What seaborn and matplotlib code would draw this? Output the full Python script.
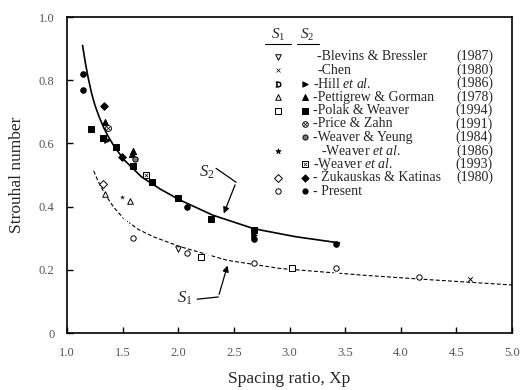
import matplotlib
matplotlib.use("Agg")
import matplotlib.pyplot as plt
import seaborn as sns
import pandas as pd

sns.set_theme(style="ticks")
plt.rcParams['font.family'] = ['Liberation Serif', 'DejaVu Serif']
plt.rcParams['mathtext.fontset'] = 'custom'
plt.rcParams['mathtext.rm'] = 'Liberation Serif'
plt.rcParams['mathtext.it'] = 'Liberation Serif:italic'
plt.rcParams['mathtext.bf'] = 'Liberation Serif:bold'

# ---------------- data ----------------
# S1 (open symbols)
s1_blevins_x = [2.00]
s1_blevins_y = [0.266]
s1_chen_x = [4.62]
s1_chen_y = [0.170]
s1_hill_x = [1.53, 2.27, 2.68, 3.42]
s1_hill_y = [0.357, 0.242, 0.200, 0.197]
s1_pettigrew_x = [1.34, 1.57]
s1_pettigrew_y = [0.441, 0.418]
s1_polak_x = [2.20, 3.02]
s1_polak_y = [0.240, 0.205]
s1_weaver86_x = [1.49]
s1_weaver86_y = [0.431]
s1_zukauskas_x = [1.32]
s1_zukauskas_y = [0.473]
s1_present_x = [1.59, 2.08, 2.68, 3.42, 4.16]
s1_present_y = [0.301, 0.254, 0.222, 0.205, 0.176]

# S2 (filled symbols)
s2_hill_x = [1.36, 2.68]
s2_hill_y = [0.610, 0.310]
s2_pettigrew_x = [1.34, 1.59, 1.58]
s2_pettigrew_y = [0.668, 0.576, 0.565]
s2_polak_x = [1.22, 1.32, 1.44, 1.59, 1.76, 2.00, 2.29, 2.68]
s2_polak_y = [0.647, 0.618, 0.589, 0.529, 0.478, 0.426, 0.360, 0.325]
s2_price_x = [1.37]
s2_price_y = [0.649]
s2_yeung_x = [1.61]
s2_yeung_y = [0.552]
s2_weaver93_x = [1.71]
s2_weaver93_y = [0.500]
s2_zukauskas_x = [1.33, 1.49]
s2_zukauskas_y = [0.717, 0.557]
s2_present_x = [1.14, 1.14, 2.08, 2.68, 3.42]
s2_present_y = [0.819, 0.768, 0.400, 0.297, 0.283]

# fitted curves
curve_s2_x = [1.14, 1.165, 1.19, 1.22, 1.25, 1.29, 1.33, 1.37, 1.42, 1.51, 1.67, 1.84, 2.02, 2.31, 2.68, 3.05, 3.45]
curve_s2_y = [0.910, 0.855, 0.808, 0.760, 0.722, 0.683, 0.650, 0.622, 0.593, 0.549, 0.494, 0.455, 0.420, 0.373, 0.330, 0.305, 0.285]
curve_s1_x = [1.24, 1.28, 1.34, 1.42, 1.51, 1.64, 1.78, 2.02, 2.44, 2.92, 3.66, 4.20, 5.00]
curve_s1_y = [0.513, 0.480, 0.440, 0.398, 0.362, 0.328, 0.304, 0.273, 0.230, 0.204, 0.183, 0.170, 0.152]

xticks = [1.0, 1.5, 2.0, 2.5, 3.0, 3.5, 4.0, 4.5, 5.0]
yticks = [0, 0.2, 0.4, 0.6, 0.8, 1.0]
ytick_labels = ['0', '0.2', '0.4', '0.6', '0.8', '1.0']

legend_rows = [
    ('-Blevins & Bressler', '(1987)'),
    ('-Chen', '(1980)'),
    ('-Hill $\\mathit{et\\ al.}$', '(1986)'),
    ('-Pettigrew & Gorman', '(1978)'),
    ('-Polak & Weaver', '(1994)'),
    ('-Price & Zahn', '(1991)'),
    ('-Weaver & Yeung', '(1984)'),
    ('-Weaver $\\mathit{et\\ al.}$', '(1986)'),
    ('-Weaver $\\mathit{et\\ al.}$', '(1993)'),
    ('- Žukauskas & Katinas', '(1980)'),
    ('- Present', ''),
]
legend_indent = [4, 4, 0, 0, 0, 0, 0, 8, 0, 0, 0]

# ---------------- figure ----------------
fig = plt.figure(figsize=(5.21, 3.90), dpi=100)
ax = fig.add_axes([67/521, 1 - 333/390, 445/521, 316/390])

sns.lineplot(x=curve_s2_x, y=curve_s2_y, ax=ax, color='black', lw=1.2, sort=False)
sns.lineplot(x=curve_s1_x, y=curve_s1_y, ax=ax, color='black', lw=0.8, sort=False,
             dashes=False, linestyle=(0, (3.5, 2)))

W = 'white'
K = 'black'
styles_s1 = {
    'blevins': ('v', W, 16),
    'chen': ('x', K, 10),
    'hill': ('$\\mathrm{D}$', K, 18),
    'pettigrew': ('^', W, 16),
    'polak': ('s', W, 15),
    'weaver86': ('*', K, 20),
    'zukauskas': ('D', W, 16),
    'present': ('o', W, 15),
}
styles_s2 = {
    'hill': ('>', K, 16),
    'pettigrew': ('^', K, 20),
    'polak': ('s', K, 18),
    'price': ('o', W, 18),
    'yeung': ('o', '#777777', 15),
    'weaver93': ('s', W, 18),
    'zukauskas': ('D', K, 15),
    'present': ('o', K, 16),
}

def draw(xs, ys, st):
    m, fc, s = st
    if m == 'x' or m.startswith('$'):
        sns.scatterplot(x=xs, y=ys, ax=ax, marker=m, color='black', s=s, linewidth=0.7, zorder=4)
    elif m == '*':
        sns.scatterplot(x=xs, y=ys, ax=ax, marker=m, color='black', s=s, linewidth=0.3, zorder=4)
    else:
        sns.scatterplot(x=xs, y=ys, ax=ax, marker=m, facecolor=fc, edgecolor='black',
                        s=s, linewidth=0.7, zorder=4)

draw(s1_blevins_x, s1_blevins_y, styles_s1['blevins'])
draw(s1_chen_x, s1_chen_y, styles_s1['chen'])
draw(s1_hill_x, s1_hill_y, styles_s1['hill'])
draw(s1_pettigrew_x, s1_pettigrew_y, styles_s1['pettigrew'])
draw(s1_polak_x, s1_polak_y, styles_s1['polak'])
draw(s1_weaver86_x, s1_weaver86_y, styles_s1['weaver86'])
draw(s1_zukauskas_x, s1_zukauskas_y, styles_s1['zukauskas'])
draw(s1_present_x, s1_present_y, styles_s1['present'])

draw(s2_hill_x, s2_hill_y, styles_s2['hill'])
draw(s2_pettigrew_x, s2_pettigrew_y, styles_s2['pettigrew'])
draw(s2_polak_x, s2_polak_y, styles_s2['polak'])
draw(s2_price_x, s2_price_y, styles_s2['price'])
sns.scatterplot(x=s2_price_x, y=s2_price_y, ax=ax, marker='x', color='black', s=6, linewidth=0.5, zorder=5)
draw(s2_yeung_x, s2_yeung_y, styles_s2['yeung'])
draw(s2_weaver93_x, s2_weaver93_y, styles_s2['weaver93'])
sns.scatterplot(x=s2_weaver93_x, y=s2_weaver93_y, ax=ax, marker='x', color='black', s=6, linewidth=0.5, zorder=5)
draw(s2_zukauskas_x, s2_zukauskas_y, styles_s2['zukauskas'])
draw(s2_present_x, s2_present_y, styles_s2['present'])

# ---------------- annotations ----------------
ax.text(2.256, 0.51, '$S_2$', fontsize=12, ha='center', va='center')
ax.plot([2.34, 2.52], [0.521, 0.477], color='black', lw=0.9)
ax.annotate('', xy=(2.40, 0.37), xytext=(2.52, 0.477),
            arrowprops=dict(arrowstyle='-|>', color='black', lw=0.9, mutation_scale=9))
ax.text(2.06, 0.11, '$S_1$', fontsize=12, ha='center', va='center')
ax.plot([2.17, 2.36], [0.107, 0.114], color='black', lw=0.9)
ax.annotate('', xy=(2.45, 0.222), xytext=(2.36, 0.114),
            arrowprops=dict(arrowstyle='-|>', color='black', lw=0.9, mutation_scale=9))

# ---------------- legend (manual table) ----------------
tr = ax.transAxes
def fx(px):
    return (px - 67) / 445
def fy(py):
    return (333 - py) / 316

ax.text(fx(278), fy(35), '$S_1$', transform=tr, fontsize=11, ha='center', va='center')
ax.text(fx(307), fy(35), '$S_2$', transform=tr, fontsize=11, ha='center', va='center')
ax.plot([fx(265), fx(291)], [fy(44), fy(44)], transform=tr, color='black', lw=0.8)
ax.plot([fx(297), fx(319)], [fy(44), fy(44)], transform=tr, color='black', lw=0.8)

s1_keys = ['blevins', 'chen', 'hill', 'pettigrew', 'polak', None, None, 'weaver86', None, 'zukauskas', 'present']
s2_keys = [None, None, 'hill', 'pettigrew', 'polak', 'price', 'yeung', None, 'weaver93', 'zukauskas', 'present']
for i, (label, year) in enumerate(legend_rows):
    py = 56.7 + 13.45 * i
    k1 = s1_keys[i]
    k2 = s2_keys[i]
    if k1:
        m, fc, s = styles_s1[k1]
        if m == 'x' or m.startswith('$') or m == '*':
            ax.scatter([fx(278)], [fy(py)], transform=tr, marker=m, color='black', s=s * 0.8, linewidth=0.5, clip_on=False)
        else:
            ax.scatter([fx(278)], [fy(py)], transform=tr, marker=m, facecolor=fc, edgecolor='black', s=s, linewidth=0.7, clip_on=False)
    if k2:
        m, fc, s = styles_s2[k2]
        ax.scatter([fx(305)], [fy(py)], transform=tr, marker=m, facecolor=fc, edgecolor='black', s=s * 0.9, linewidth=0.7, clip_on=False)
        if k2 in ('price', 'weaver93'):
            ax.scatter([fx(305)], [fy(py)], transform=tr, marker='x', color='black', s=6, linewidth=0.5)
    ax.text(fx(313 + legend_indent[i]), fy(py), label, transform=tr, fontsize=10, ha='left', va='center')
    if year:
        ax.text(fx(493), fy(py), year, transform=tr, fontsize=10, ha='right', va='center')

# ---------------- axes ----------------
ax.set_xlim(1.0, 5.0)
ax.set_ylim(0, 1.0)
ax.set_xticks(xticks)
ax.set_xticklabels([f'{t:.1f}' for t in xticks])
ax.set_yticks(yticks)
ax.set_yticklabels(ytick_labels)
ax.tick_params(direction='in', length=4, width=1.0, color='black', labelsize=9,
               labelcolor='#555555', top=False, right=False)
ax.tick_params(axis='x', pad=10)
ax.tick_params(axis='y', pad=9)
for sp in ax.spines.values():
    sp.set_visible(True)
    sp.set_linewidth(1.2)
    sp.set_color('black')
ax.set_xlabel('Spacing ratio, Xp', fontsize=12.5, labelpad=9)
ax.set_ylabel('Strouhal number', fontsize=12.5, labelpad=10)
ax.grid(False)

fig.savefig('out.png', dpi=100)
